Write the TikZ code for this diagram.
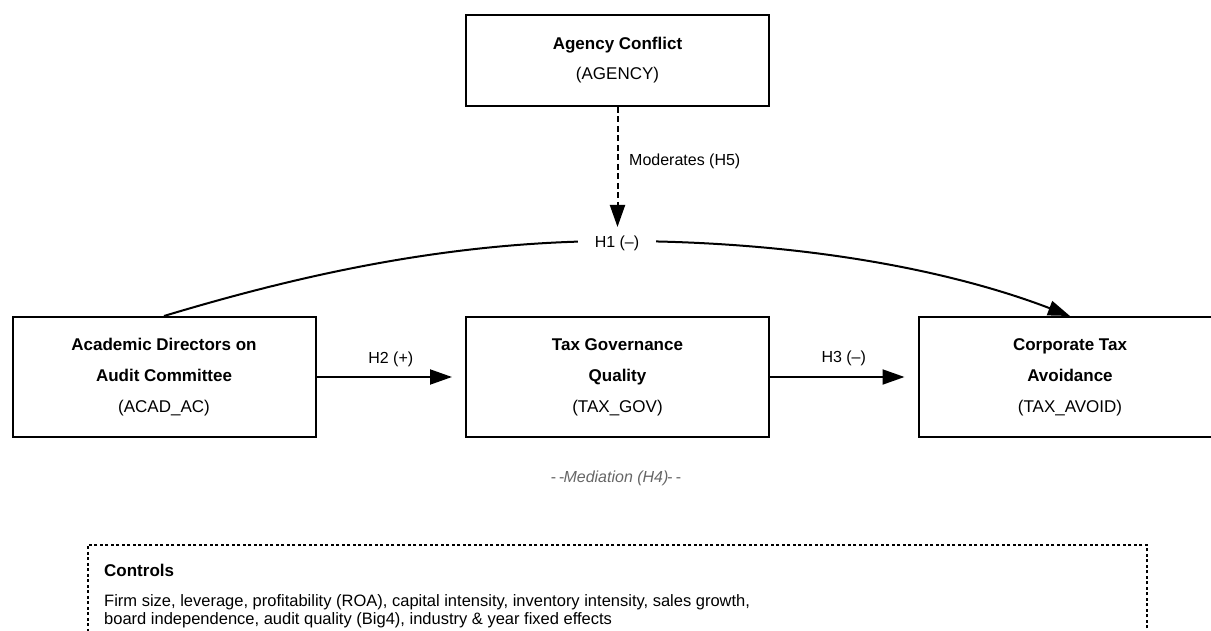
\documentclass[tikz,border=0pt]{standalone}
\usepackage{fontspec}
\setmainfont{Liberation Sans}
\usetikzlibrary{arrows.meta}
\begin{document}
\begin{tikzpicture}[x=1pt,y=-1pt,
  box/.style={draw=black, line width=2pt, minimum width=303pt, minimum height=120pt,
    inner sep=0pt, align=center, font=\fontsize{17}{31}\selectfont},
  arr/.style={line width=2pt, -{Triangle[length=22pt,width=15pt]}},
  lbl/.style={font=\fontsize{16}{19}\selectfont, inner sep=0pt},
  ctrlbox/.style={draw=black, line width=1.5pt, dash pattern=on 3pt off 2.5pt,
    minimum width=1059pt, minimum height=130pt, inner sep=0pt, anchor=north west},
]
\useasboundingbox (0,0) rectangle (1211,631);

% boxes
\node[box, minimum height=91pt, font=\fontsize{17}{30}\selectfont] (agency) at (617.5,60.5)
  {\textbf{Agency Conflict}\\(AGENCY)};
\node[box] (acad) at (164,377)
  {\textbf{Academic Directors on}\\\textbf{Audit Committee}\\(ACAD\_AC)};
\node[box] (gov) at (617.5,377)
  {\textbf{Tax Governance}\\\textbf{Quality}\\(TAX\_GOV)};
\node[box] (avoid) at (1070,377)
  {\textbf{Corporate Tax}\\\textbf{Avoidance}\\(TAX\_AVOID)};

% H2, H3
\draw[arr, shorten >=13pt] (acad.east) -- (gov.west)
  node[lbl, midway, yshift=18pt] (h2) {H2 (+)};
\draw[arr, shorten >=13pt] (gov.east) -- (avoid.west)
  node[lbl, midway, yshift=19pt] (h3) {H3 (--)};

% H1 curve
\draw[arr] (acad.north) .. controls (300,275) and (450,241) .. (617,241)
  node[lbl, fill=white, inner xsep=17pt, inner ysep=3pt, yshift=-2pt] (h1) {H1 (--)}
  .. controls (800,241) and (950,270) .. (avoid.north);

% moderation
\coordinate (modtip) at (617.5,227);
\draw[arr, dash pattern=on 6pt off 3.5pt] (agency.south) -- (modtip);
\node[lbl, anchor=west] (mod) at (629,161) {Moderates (H5)};

% mediation
\node[lbl, text=black!60] (med) at (616,478)
  {-\hspace{3pt}-\hspace{-1pt}\textit{Mediation (H4)}\hspace{-1pt}-\hspace{3pt}-};

% controls
\node[ctrlbox] (ctrl) at (87,544) {};
\node[anchor=west, inner sep=0pt, font=\bfseries\fontsize{17}{19}\selectfont] (ctitle) at (104,570) {Controls};
\node[anchor=north west, align=left, inner sep=0pt, font=\fontsize{16.5}{18.5}\selectfont] (cbody) at (104,594)
  {Firm size, leverage, profitability (ROA), capital intensity, inventory intensity, sales growth,\\
   board independence, audit quality (Big4), industry \& year fixed effects};
\end{tikzpicture}
\end{document}
